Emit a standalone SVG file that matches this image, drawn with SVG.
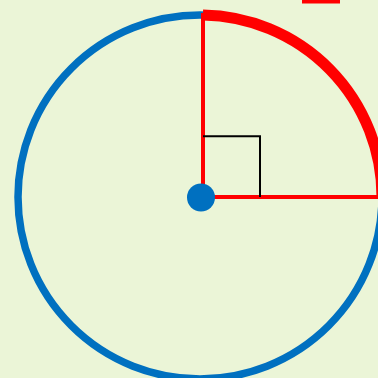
<svg xmlns="http://www.w3.org/2000/svg" width="378" height="378" viewBox="0 0 378 378">
<style>
.red{stroke:#ff0000;fill:none}
</style>
<rect width="378" height="378" fill="#ebf5d7"/>
<g id="circle">
<circle cx="200" cy="197" r="182" fill="none" stroke="#0070c0" stroke-width="7.5"/>
</g>
<g id="arc">
<path class="red" d="M203 15 A182 182 0 0 1 382 197" stroke-width="11"/>
</g>
<g id="connectors">
<line class="red" x1="203" y1="13" x2="203" y2="198" stroke-width="4"/>
<line class="red" x1="203" y1="197" x2="378" y2="197" stroke-width="4"/>
<polyline points="203,136.3 260,136.3 260,197" fill="none" stroke="#000" stroke-width="2"/>
</g>
<g id="center">
<circle cx="201" cy="197.5" r="14" fill="#0070c0"/>
</g>
<g id="mark">
<rect x="302" y="0" width="38" height="3.5" fill="#ff0000"/>
</g>
</svg>
